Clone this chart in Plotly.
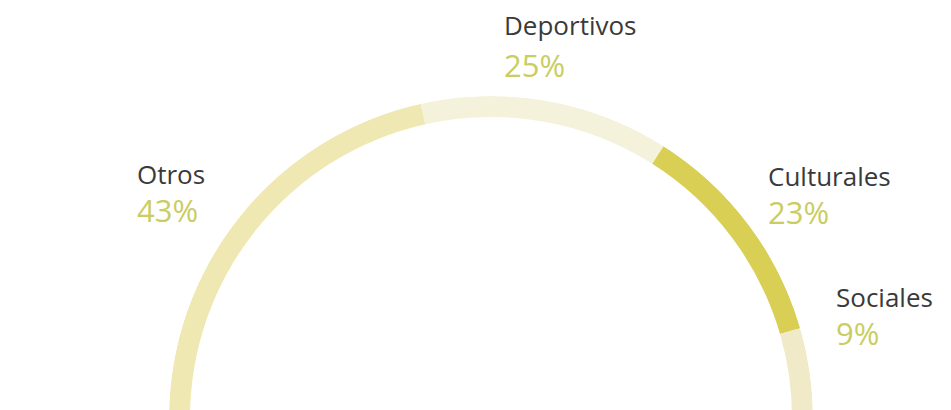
import plotly.graph_objects as go

categories = ["Otros", "Deportivos", "Culturales", "Sociales"]
percentages = [43, 25, 23, 9]
pct_labels = ["43%", "25%", "23%", "9%"]
colors = ["#f0e8b2", "#f5f2dc", "#d9cf55", "#f0eac8"]

# semicircle: 100% -> 180 degrees
deg_per_pct = 180 / sum(percentages)
widths = [p * deg_per_pct for p in percentages]
starts = [sum(widths[:i]) for i in range(len(widths))]
centers = [s + w / 2 for s, w in zip(starts, widths)]

R_OUT = 322
THICK = 21

fig = go.Figure()
fig.add_trace(go.Barpolar(
    theta=centers,
    width=widths,
    r=[THICK] * len(categories),
    base=[R_OUT - THICK] * len(categories),
    marker=dict(color=colors, line=dict(width=0)),
    hoverinfo="skip",
    showlegend=False,
))

W, H = 951, 410
cx = 483
fig.update_layout(
    width=W, height=H,
    margin=dict(l=0, r=0, t=0, b=0),
    paper_bgcolor="white",
    plot_bgcolor="white",
    polar=dict(
        sector=[0, 180],
        domain=dict(x=[(cx - R_OUT) / W, (cx + R_OUT) / W], y=[0, R_OUT / H]),
        bgcolor="white",
        radialaxis=dict(visible=False, range=[0, R_OUT]),
        angularaxis=dict(visible=False, rotation=180, direction="clockwise"),
    ),
)

# label positions (pixels, top-left origin): name line then percentage line
label_pos = {
    "Deportivos": (494, 17, 57),
    "Otros": (127, 166, 202),
    "Culturales": (758, 168, 204),
    "Sociales": (826, 289, 325),
}
for cat, pl in zip(categories, pct_labels):
    x, yn, yp = label_pos[cat]
    fig.add_annotation(x=x / W, y=1 - yn / H, xref="paper", yref="paper",
                       text=cat, showarrow=False, xanchor="left", yanchor="middle",
                       font=dict(family="Open Sans", size=26, color="#3a3a3a"))
    fig.add_annotation(x=x / W, y=1 - yp / H, xref="paper", yref="paper",
                       text=pl, showarrow=False, xanchor="left", yanchor="middle",
                       font=dict(family="Open Sans", size=31, color="#cacd62"))

fig.write_html("out.html")
